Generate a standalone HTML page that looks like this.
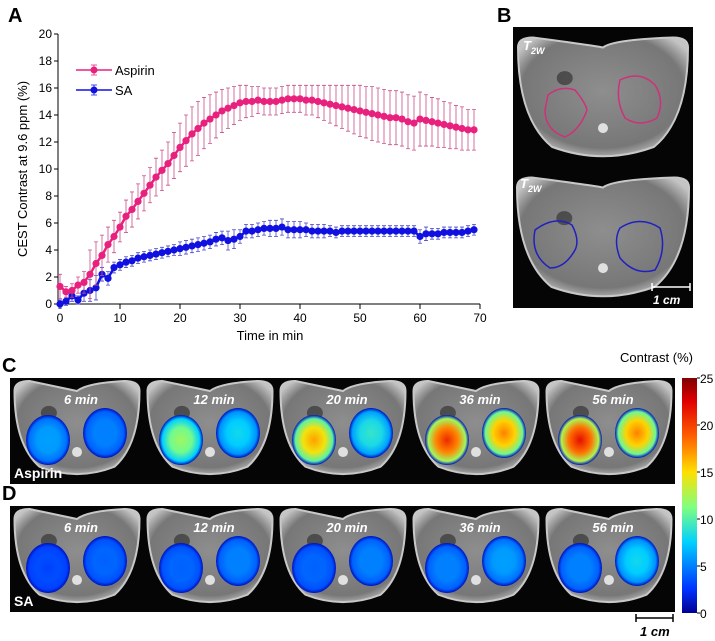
<!DOCTYPE html>
<html><head><meta charset="utf-8">
<style>
body{margin:0;background:#fff;width:715px;height:641px;overflow:hidden;font-family:"Liberation Sans",sans-serif}
svg{position:absolute;left:0;top:0}
</style></head>
<body>
<svg id="fig" width="715" height="641" viewBox="0 0 715 641" xmlns="http://www.w3.org/2000/svg">
<defs>
<radialGradient id="gray" cx="50%" cy="45%" r="60%"><stop offset="0" stop-color="#8e8e8e"/><stop offset="0.8" stop-color="#777"/><stop offset="1" stop-color="#c4c4c4"/></radialGradient>
<linearGradient id="cbar" x1="0" y1="1" x2="0" y2="0">
<stop offset="0" stop-color="#00008f"/><stop offset="0.1" stop-color="#0030ff"/><stop offset="0.3" stop-color="#00d0ff"/><stop offset="0.45" stop-color="#80ff80"/><stop offset="0.6" stop-color="#ffe000"/><stop offset="0.75" stop-color="#ff6000"/><stop offset="0.9" stop-color="#e00000"/><stop offset="1" stop-color="#800000"/>
</linearGradient>
</defs>
<g id="chart"></g>
<g id="panels"></g>
</svg>
<script>
const times = Array.from({length:70},(_,i)=>i);
const aspirin = [1.3,0.9,1.0,1.4,1.6,2.2,3.0,3.6,4.4,5.0,5.7,6.5,7.0,7.6,8.2,8.8,9.4,9.9,10.4,11.0,11.6,12.1,12.6,13.0,13.4,13.7,14.0,14.3,14.5,14.7,14.9,15.0,15.0,15.1,15.0,15.0,15.0,15.1,15.2,15.2,15.2,15.1,15.1,15.0,14.9,14.8,14.7,14.6,14.5,14.4,14.3,14.2,14.1,14.0,13.9,13.8,13.8,13.7,13.5,13.4,13.7,13.6,13.5,13.4,13.3,13.2,13.1,13.0,12.9,12.9];
const aspirinErr = [0.9,0.4,0.5,0.6,0.8,1.8,1.6,1.5,1.3,1.2,1.1,1.2,1.3,1.3,1.3,1.3,1.4,1.5,1.6,1.7,1.8,1.9,2.0,2.0,1.9,1.8,1.7,1.6,1.5,1.4,1.3,1.2,1.1,1.0,1.0,1.0,1.0,1.0,1.0,1.0,1.0,1.1,1.1,1.2,1.3,1.4,1.5,1.6,1.7,1.8,1.9,1.9,2.0,2.0,2.0,2.0,2.0,2.0,2.0,2.0,2.0,1.9,1.8,1.8,1.7,1.7,1.6,1.6,1.5,1.5];
const sa = [0.0,0.2,0.6,0.3,0.8,1.0,1.2,2.2,1.9,2.7,2.9,3.1,3.2,3.4,3.5,3.6,3.7,3.8,3.9,4.0,4.1,4.2,4.3,4.4,4.5,4.6,4.8,4.9,4.7,4.8,5.0,5.4,5.4,5.5,5.6,5.6,5.6,5.7,5.5,5.5,5.5,5.5,5.4,5.4,5.4,5.4,5.3,5.4,5.4,5.4,5.4,5.4,5.4,5.4,5.4,5.4,5.4,5.4,5.4,5.4,5.0,5.2,5.2,5.2,5.3,5.3,5.3,5.3,5.4,5.5];
const saErr = [0.3,0.3,0.4,0.3,0.6,0.8,0.9,0.5,0.5,0.4,0.4,0.4,0.4,0.4,0.4,0.4,0.4,0.4,0.4,0.4,0.5,0.5,0.5,0.5,0.5,0.5,0.5,0.5,0.7,0.7,0.5,0.5,0.5,0.5,0.5,0.6,0.6,0.6,0.6,0.6,0.6,0.5,0.5,0.5,0.5,0.4,0.4,0.4,0.4,0.4,0.4,0.4,0.4,0.4,0.4,0.4,0.4,0.4,0.4,0.4,0.5,0.5,0.4,0.4,0.4,0.4,0.4,0.4,0.4,0.4];
const xTicks = [0,10,20,30,40,50,60,70];
const yTicks = [0,2,4,6,8,10,12,14,16,18,20];

const NS="http://www.w3.org/2000/svg";
function mk(tag,attrs,parent,text){const e=document.createElementNS(NS,tag);for(const k in attrs)e.setAttribute(k,attrs[k]);if(text!==undefined)e.textContent=text;parent.appendChild(e);return e;}
const X=v=>60+v*6.0, Y=v=>304-v*13.5;
const g=document.getElementById('chart');
let t;
t=mk('text',{x:8,y:22,'font-size':20,'font-weight':'bold'},g,'A');


let ax=mk('path',{d:`M${X(0)-2} ${Y(20)}V${Y(0)}H${X(70)}`,stroke:'#000',fill:'none','stroke-width':1},g);


yTicks.forEach(v=>{mk('line',{x1:X(0)-6,x2:X(0)-2,y1:Y(v),y2:Y(v),stroke:'#000'},g);
 t=mk('text',{x:X(0)-8,y:Y(v)+4,'font-size':12,'text-anchor':'end'},g,v);
 
 });
xTicks.forEach(v=>{mk('line',{x1:X(v),x2:X(v),y1:Y(0),y2:Y(0)+5,stroke:'#000'},g);
 t=mk('text',{x:X(v),y:Y(0)+18,'font-size':12,'text-anchor':'middle'},g,v);
 
 });
t=mk('text',{x:X(35),y:340,'font-size':13,'text-anchor':'middle'},g,'Time in min');


t=mk('text',{x:0,y:0,'font-size':13,'text-anchor':'middle',transform:`translate(27,${Y(10)}) rotate(-90)`},g,'CEST Contrast at 9.6 ppm (%)');


function series(vals,errs,col,errCol,name){
 const sg=mk('g',{},g);
 
 
 vals.forEach((v,i)=>{const x=X(times[i]);
  mk('path',{d:`M${x} ${Y(v-errs[i])}V${Y(v+errs[i])}M${x-2} ${Y(v-errs[i])}h4M${x-2} ${Y(v+errs[i])}h4`,stroke:errCol,'stroke-width':0.8,fill:'none'},sg);});
 mk('polyline',{points:vals.map((v,i)=>X(times[i])+','+Y(v)).join(' '),stroke:col,'stroke-width':2.5,fill:'none'},sg);
 vals.forEach((v,i)=>{const c=mk('circle',{cx:X(times[i]),cy:Y(v),r:3.6,fill:col},sg);
  
  });
}
series(sa,saErr,'#1010e0','#4a4ac8','sa');
series(aspirin,aspirinErr,'#e8207e','#c8508a','aspirin');
[['Aspirin','#e8207e',70],['SA','#1010e0',90]].forEach(([n,c,y])=>{
 const lg=mk('g',{},g);
 
 
 mk('line',{x1:76,x2:112,y1:y,y2:y,stroke:c,'stroke-width':1.5},lg);
 mk('path',{d:`M94 ${y-5}V${y+5}M91 ${y-5}h6M91 ${y+5}h6`,stroke:c,'stroke-width':0.8},lg);
 mk('circle',{cx:94,cy:y,r:3.5,fill:c},lg);
 mk('text',{x:115,y:y+5,'font-size':13},lg,n);
});

const p=document.getElementById('panels');
function brain(parent,cx,cy,w,h){
 const hw=w/2,hh=h/2;
 mk('path',{d:`M${cx-hw} ${cy-hh+10}Q${cx-hw} ${cy-hh} ${cx-hw+15} ${cy-hh}Q${cx-10} ${cy-hh+8} ${cx} ${cy-hh+10}Q${cx+10} ${cy-hh+2} ${cx+hw-15} ${cy-hh}Q${cx+hw} ${cy-hh} ${cx+hw} ${cy-hh+10}Q${cx+hw} ${cy+hh*0.3} ${cx+hw*0.6} ${cy+hh*0.75}Q${cx} ${cy+hh*1.05} ${cx-hw*0.6} ${cy+hh*0.75}Q${cx-hw} ${cy+hh*0.3} ${cx-hw} ${cy-hh+10}Z`,fill:'url(#gray)',stroke:'#c8c8c8','stroke-width':2},parent);
 mk('circle',{cx:cx,cy:cy+hh*0.45,r:5,fill:'#e0e0e0'},parent);
 mk('ellipse',{cx:cx-hw*0.45,cy:cy-hh*0.35,rx:8,ry:7,fill:'#2a2a2a',opacity:0.6},parent);
}
let pb=mk('g',{},p);


t=mk('text',{x:497,y:22,'font-size':20,'font-weight':'bold'},p,'B');


mk('rect',{x:513,y:27,width:180,height:281,fill:'#050505'},pb);
brain(pb,603,100,170,125);brain(pb,603,240,172,125);
mk('path',{d:'M548 95 Q560 85 575 90 Q585 102 587 110 Q580 130 565 137 Q545 130 545 110Z',fill:'none',stroke:'#d0307a','stroke-width':1.5},pb);
mk('path',{d:'M620 80 Q640 70 655 85 Q665 100 657 118 Q640 128 625 118 Q615 100 620 80Z',fill:'none',stroke:'#d0307a','stroke-width':1.5},pb);
mk('path',{d:'M535 230 Q555 215 572 225 Q580 240 575 250 Q565 268 550 268 Q530 255 535 230Z',fill:'none',stroke:'#2020c0','stroke-width':1.5},pb);
mk('path',{d:'M620 228 Q640 215 660 228 Q667 250 655 270 Q635 276 620 258 Q613 240 620 228Z',fill:'none',stroke:'#2020c0','stroke-width':1.5},pb);
mk('text',{x:523,y:50,'font-size':13,fill:'#fff','font-style':'italic','font-weight':'bold'},pb,'T');
mk('text',{x:531,y:54,'font-size':9,fill:'#fff','font-style':'italic','font-weight':'bold'},pb,'2W');
mk('text',{x:520,y:188,'font-size':13,fill:'#fff','font-style':'italic','font-weight':'bold'},pb,'T');
mk('text',{x:528,y:192,'font-size':9,fill:'#fff','font-style':'italic','font-weight':'bold'},pb,'2W');
mk('path',{d:'M652 283V291M652 287H690M690 283V291',stroke:'#fff','stroke-width':1.5},pb);
mk('text',{x:653,y:304,'font-size':12,fill:'#fff','font-style':'italic','font-weight':'bold'},pb,'1 cm');

const tileTimes=['6 min','12 min','20 min','36 min','56 min'];
const aspLevels=[[6,5],[12,8],[17,9],[21,18],[22,18]];
const saLevels=[[3,4],[4,5],[4,5],[5,6],[5,8]];
const cmap=[[0,[0,0,143]],[2.5,[0,48,255]],[7.5,[0,208,255]],[11,[128,255,128]],[15,[255,224,0]],[19,[255,96,0]],[22.5,[224,0,0]],[25,[128,0,0]]];
function col(v){for(let i=1;i<cmap.length;i++){if(v<=cmap[i][0]){const[a,ca]=cmap[i-1],[b,cb]=cmap[i];const f=(v-a)/(b-a);return 'rgb('+ca.map((c,k)=>Math.round(c+(cb[k]-c)*f)).join(',')+')';}}return 'rgb(128,0,0)';}
const defs=document.querySelector('defs');
let gid=0;
function blob(parent,cx,cy,rx,ry,val){
 const id='b'+(gid++);
 const rg=mk('radialGradient',{id:id},defs);
 mk('stop',{offset:0,'stop-color':col(val)},rg);
 mk('stop',{offset:0.5,'stop-color':col(val*0.8+1)},rg);
 mk('stop',{offset:0.85,'stop-color':col(val*0.5+1.5)},rg);
 mk('stop',{offset:1,'stop-color':col(1)},rg);
 const e=mk('ellipse',{cx:cx,cy:cy,rx:rx,ry:ry,fill:`url(#${id})`},parent);
 
 
}
[['C',378,aspLevels,'Aspirin'],['D',506,saLevels,'SA']].forEach(([lab,y0,levels,name])=>{
 const sg=mk('g',{},p);
 
 
 t=mk('text',{x:2,y:y0-6,'font-size':20,'font-weight':'bold'},p,lab);
 
 
 mk('rect',{x:10,y:y0,width:665,height:106,fill:'#050505'},sg);
 for(let i=0;i<5;i++){
  const x0=10+i*133;
  brain(sg,x0+67,y0+52,125,98);
  blob(sg,x0+38,y0+62,22,25,levels[i][0]);
  blob(sg,x0+95,y0+55,22,25,levels[i][1]);
  mk('text',{x:x0+71,y:y0+26,'font-size':13,fill:'#fff','font-style':'italic','font-weight':'bold','text-anchor':'middle'},sg,tileTimes[i]);
 }
 mk('text',{x:14,y:y0+100,'font-size':14,fill:'#fff','font-weight':'bold'},sg,name);
});
mk('path',{d:'M636 614V622M636 618H673M673 614V622',stroke:'#000','stroke-width':1.5},p);
t=mk('text',{x:640,y:636,'font-size':13,'font-style':'italic','font-weight':'bold'},p,'1 cm');


const cb=mk('g',{},p);


mk('rect',{x:682,y:378,width:15,height:235,fill:'url(#cbar)'},cb);
[0,5,10,15,20,25].forEach(v=>{const yy=613-v*9.4;mk('line',{x1:697,x2:700,y1:yy,y2:yy,stroke:'#000'},cb);
 mk('text',{x:700,y:yy+5,'font-size':12},cb,v);});
mk('text',{x:620,y:362,'font-size':13},cb,'Contrast (%)');
</script>
</body></html>
